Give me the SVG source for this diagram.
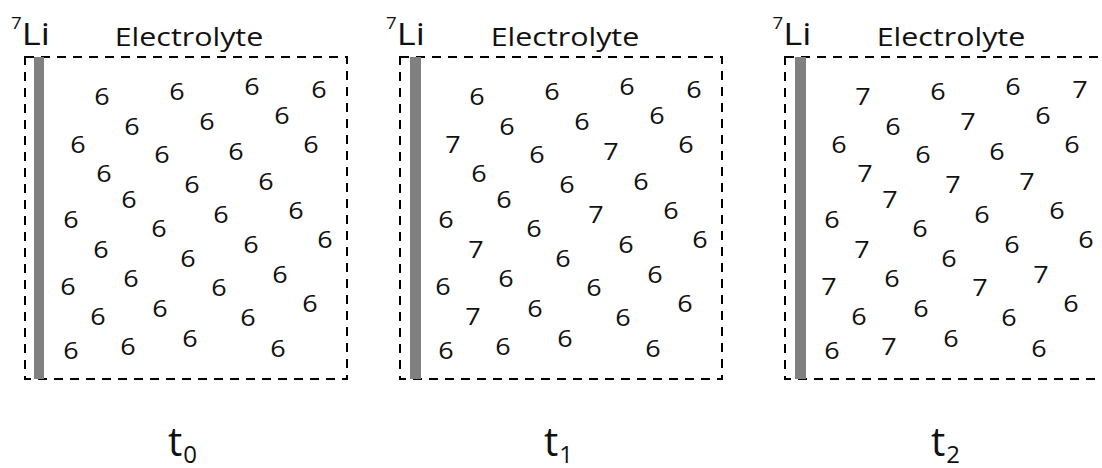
<svg xmlns="http://www.w3.org/2000/svg" width="1102" height="468" viewBox="0 0 1102 468">
<style>
text{font-family:"Open Sans","Noto Sans",sans-serif;fill:#111;}
.s{transform-box:fill-box;transform-origin:center;transform:scaleX(1.17);}
.d{font-size:23px;text-anchor:middle;}
.lbl{font-size:26px;text-anchor:middle;}
.li{font-size:31px;text-anchor:middle;}
.sup{font-size:16px;}
.t{font-size:40px;}
.sub{font-size:24px;}
.box{fill:none;stroke:#000;stroke-width:2;stroke-dasharray:9 7;}
.bar{fill:#808080;}
</style>
<rect width="1102" height="468" fill="#fff"/>
<g id="panel-t0">
<rect class="box" x="25" y="57" width="322" height="322"/>
<rect class="bar" x="34" y="57" width="10" height="322"/>
<text class="s li" x="30.5" y="45"><tspan class="sup" dy="-16">7</tspan><tspan dy="16">Li</tspan></text>
<text class="s lbl" x="189" y="46">Electrolyte</text>
<g>
<text class="s d" x="102" y="105">6</text><text class="s d" x="177" y="100">6</text><text class="s d" x="252" y="95">6</text><text class="s d" x="319" y="98">6</text>
<text class="s d" x="132" y="135">6</text><text class="s d" x="207" y="130">6</text><text class="s d" x="282" y="124">6</text>
<text class="s d" x="78" y="153">6</text><text class="s d" x="162" y="163">6</text><text class="s d" x="236" y="160">6</text><text class="s d" x="311" y="153">6</text>
<text class="s d" x="104" y="182">6</text><text class="s d" x="192" y="193">6</text><text class="s d" x="266" y="190">6</text>
<text class="s d" x="129" y="208">6</text><text class="s d" x="71" y="228">6</text><text class="s d" x="159" y="237">6</text><text class="s d" x="221" y="223">6</text><text class="s d" x="296" y="219">6</text>
<text class="s d" x="101" y="258">6</text><text class="s d" x="188" y="267">6</text><text class="s d" x="251" y="253">6</text><text class="s d" x="325" y="248">6</text>
<text class="s d" x="68" y="295">6</text><text class="s d" x="131" y="287">6</text><text class="s d" x="219" y="296">6</text><text class="s d" x="280" y="283">6</text>
<text class="s d" x="98" y="325">6</text><text class="s d" x="160" y="317">6</text><text class="s d" x="248" y="326">6</text><text class="s d" x="310" y="312">6</text>
<text class="s d" x="71" y="359">6</text><text class="s d" x="128" y="355">6</text><text class="s d" x="190" y="347">6</text><text class="s d" x="278" y="357">6</text>
</g>
<text class="t" x="168" y="456">t<tspan class="sub" dx="1" dy="7">0</tspan></text>
</g>
<g id="panel-t1" transform="translate(375,0)">
<rect class="box" x="25" y="57" width="322" height="322"/>
<rect class="bar" x="35" y="57" width="11" height="322"/>
<text class="s li" x="30.5" y="45"><tspan class="sup" dy="-16">7</tspan><tspan dy="16">Li</tspan></text>
<text class="s lbl" x="190" y="46">Electrolyte</text>
<g>
<text class="s d" x="102" y="105">6</text><text class="s d" x="177" y="100">6</text><text class="s d" x="252" y="95">6</text><text class="s d" x="319" y="98">6</text>
<text class="s d" x="132" y="135">6</text><text class="s d" x="207" y="130">6</text><text class="s d" x="282" y="124">6</text>
<text class="s d" x="78" y="153">7</text><text class="s d" x="162" y="163">6</text><text class="s d" x="236" y="160">7</text><text class="s d" x="311" y="153">6</text>
<text class="s d" x="104" y="182">6</text><text class="s d" x="192" y="193">6</text><text class="s d" x="266" y="190">6</text>
<text class="s d" x="129" y="208">6</text><text class="s d" x="71" y="228">6</text><text class="s d" x="159" y="237">6</text><text class="s d" x="221" y="223">7</text><text class="s d" x="296" y="219">6</text>
<text class="s d" x="101" y="258">7</text><text class="s d" x="188" y="267">6</text><text class="s d" x="251" y="253">6</text><text class="s d" x="325" y="248">6</text>
<text class="s d" x="68" y="295">6</text><text class="s d" x="131" y="287">6</text><text class="s d" x="219" y="296">6</text><text class="s d" x="280" y="283">6</text>
<text class="s d" x="98" y="325">7</text><text class="s d" x="160" y="317">6</text><text class="s d" x="248" y="326">6</text><text class="s d" x="310" y="312">6</text>
<text class="s d" x="71" y="359">6</text><text class="s d" x="128" y="355">6</text><text class="s d" x="190" y="347">6</text><text class="s d" x="278" y="357">6</text>
</g>
<text class="t" x="169" y="456">t<tspan class="sub" dx="1" dy="7">1</tspan></text>
</g>
<g id="panel-t2" transform="translate(761,0)">
<rect class="box" x="24" y="57" width="322" height="322"/>
<rect class="bar" x="34" y="57" width="11" height="322"/>
<text class="s li" x="31" y="45"><tspan class="sup" dy="-16">7</tspan><tspan dy="16">Li</tspan></text>
<text class="s lbl" x="190" y="46">Electrolyte</text>
<g>
<text class="s d" x="102" y="105">7</text><text class="s d" x="177" y="100">6</text><text class="s d" x="252" y="95">6</text><text class="s d" x="319" y="98">7</text>
<text class="s d" x="132" y="135">6</text><text class="s d" x="207" y="130">7</text><text class="s d" x="282" y="124">6</text>
<text class="s d" x="78" y="153">6</text><text class="s d" x="162" y="163">6</text><text class="s d" x="236" y="160">6</text><text class="s d" x="311" y="153">6</text>
<text class="s d" x="104" y="182">7</text><text class="s d" x="192" y="193">7</text><text class="s d" x="266" y="190">7</text>
<text class="s d" x="129" y="208">7</text><text class="s d" x="71" y="228">6</text><text class="s d" x="159" y="237">6</text><text class="s d" x="221" y="223">6</text><text class="s d" x="296" y="219">6</text>
<text class="s d" x="101" y="258">7</text><text class="s d" x="188" y="267">6</text><text class="s d" x="251" y="253">6</text><text class="s d" x="325" y="248">6</text>
<text class="s d" x="68" y="295">7</text><text class="s d" x="131" y="287">6</text><text class="s d" x="219" y="296">7</text><text class="s d" x="280" y="283">7</text>
<text class="s d" x="98" y="325">6</text><text class="s d" x="160" y="317">6</text><text class="s d" x="248" y="326">6</text><text class="s d" x="310" y="312">6</text>
<text class="s d" x="71" y="359">6</text><text class="s d" x="128" y="355">7</text><text class="s d" x="190" y="347">6</text><text class="s d" x="278" y="357">6</text>
</g>
<text class="t" x="170" y="456">t<tspan class="sub" dx="1" dy="7">2</tspan></text>
</g>
</svg>
